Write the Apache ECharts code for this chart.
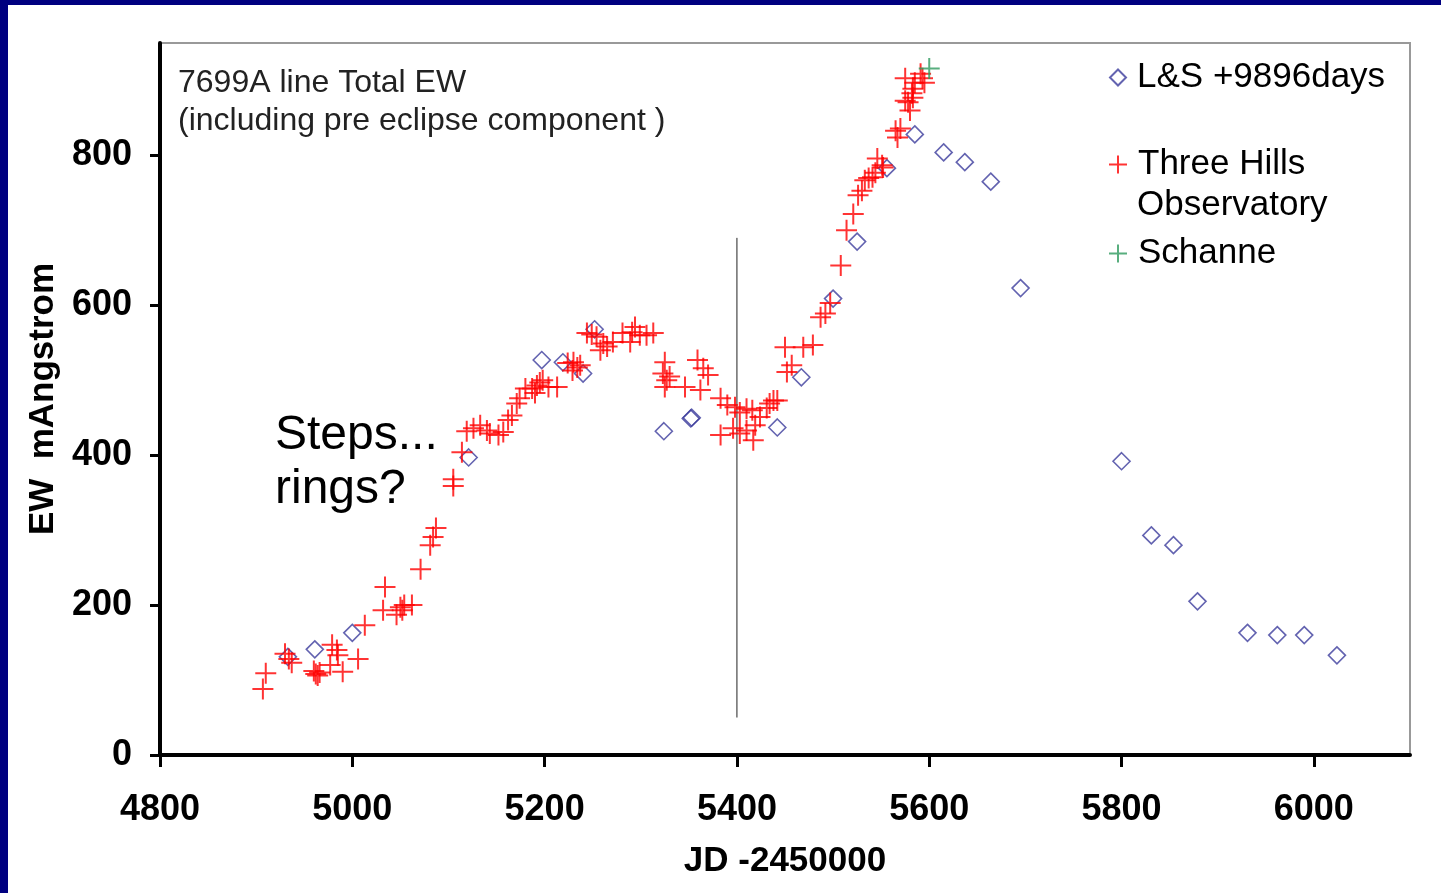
<!DOCTYPE html>
<html>
<head>
<meta charset="utf-8">
<script src="https://cdn.jsdelivr.net/npm/echarts@6/dist/echarts.min.js"></script>
<style>
html, body { margin: 0; padding: 0; background: #fff; }
#main { width: 1441px; height: 893px; }
</style>
</head>
<body>
<div id="main"></div>
<script>
// tick values
var xTicks = [4800, 5000, 5200, 5400, 5600, 5800, 6000];
var yTicks = [0, 200, 400, 600, 800];

// L&S +9896days  [JD-2450000, EW]
var lsData = [
	[4933, 131], [4961, 141], [5000, 163], [5121, 397], [5197, 527], [5219, 524],
	[5240, 509], [5252, 568], [5324, 432], [5352, 449], [5353, 450], [5442, 437],
	[5467, 504], [5500, 609], [5525, 685], [5556, 783], [5585, 828], [5615, 804],
	[5637, 791], [5664, 765], [5695, 623], [5800, 392], [5831, 293], [5854, 280],
	[5879, 205], [5931, 163], [5962, 160], [5990, 160], [6024, 133]
];

// Three Hills Observatory
var thoData = [
	[4907, 88], [4910, 109], [4930, 135], [4934, 128], [4937, 123], [4960, 112],
	[4962, 108], [4964, 106], [4966, 110], [4977, 120], [4979, 147], [4984, 140],
	[4985, 133], [4990, 111], [5006, 128], [5013, 173], [5032, 193], [5034, 224],
	[5046, 187], [5050, 197], [5052, 193], [5054, 200], [5062, 200], [5071, 248],
	[5081, 280], [5084, 291], [5087, 303], [5105, 368], [5105, 359], [5114, 404],
	[5119, 432], [5126, 436], [5133, 440], [5140, 433], [5143, 429], [5152, 427],
	[5157, 431], [5162, 447], [5166, 453], [5171, 469], [5174, 476], [5180, 489],
	[5187, 489], [5190, 483], [5192, 493], [5195, 497], [5198, 500], [5204, 491],
	[5213, 491], [5224, 523], [5230, 524], [5229, 513], [5234, 517], [5237, 520],
	[5244, 563], [5249, 561], [5254, 558], [5258, 540], [5261, 549], [5265, 545],
	[5271, 551], [5281, 563], [5289, 551], [5291, 564], [5294, 571], [5299, 560],
	[5306, 560], [5313, 563], [5325, 524], [5323, 509], [5327, 500], [5325, 491],
	[5330, 505], [5346, 491], [5359, 527], [5365, 516], [5370, 507], [5362, 487],
	[5383, 476], [5390, 467], [5398, 464], [5383, 427], [5396, 436], [5403, 457],
	[5410, 462], [5416, 460], [5403, 429], [5410, 433], [5417, 420], [5419, 440],
	[5424, 451], [5431, 463], [5434, 469], [5438, 473], [5442, 473], [5452, 511],
	[5457, 520], [5450, 544], [5469, 544], [5479, 547], [5487, 584], [5492, 589],
	[5497, 603], [5508, 653], [5514, 700], [5521, 722], [5526, 747], [5530, 753],
	[5533, 767], [5537, 770], [5541, 771], [5544, 777], [5546, 796], [5551, 787],
	[5552, 784], [5565, 833], [5570, 836], [5567, 824], [5580, 860], [5578, 871],
	[5575, 873], [5582, 883], [5583, 889], [5575, 903], [5585, 897], [5593, 903],
	[5591, 909], [5595, 897], [5583, 877]
];

// Schanne
var schanneData = [[5600, 916]];

// vertical marker line at JD 5400
var markerLine = [[5400, 50], [5400, 690]];

var plus = 'path://M0,10L20,10M10,0L10,20';
var font = 'Liberation Sans, Arial, sans-serif';

var myChart = echarts.init(document.getElementById('main'));

var legendText = { fontFamily: font, fontSize: 35, color: '#000', padding: [0, 0, 0, 6] };

var option = {
	backgroundColor: '#fff',
	animation: false,
	grid: {
		left: 160,
		top: 43,
		right: 31,
		bottom: 138,
		show: true,
		borderColor: '#999',
		borderWidth: 2,
		backgroundColor: 'transparent'
	},
	legend: [{
		orient: 'vertical',
		left: 1109,
		top: 60,
		padding: 0,
		itemWidth: 16,
		itemHeight: 16,
		textStyle: legendText,
		data: ['L&S +9896days']
	}, {
		orient: 'vertical',
		left: 1108,
		top: 147,
		padding: 0,
		itemWidth: 18,
		itemHeight: 18,
		formatter: function () { return 'Three Hills'; },
		textStyle: legendText,
		data: ['Three Hills Observatory']
	}, {
		orient: 'vertical',
		left: 1108,
		top: 236,
		padding: 0,
		itemWidth: 18,
		itemHeight: 18,
		textStyle: legendText,
		data: ['Schanne']
	}],
	xAxis: {
		type: 'value',
		min: 4800,
		max: 6100,
		interval: 200,
		name: 'JD -2450000',
		nameLocation: 'middle',
		nameGap: 89,
		nameTextStyle: { fontFamily: font, fontSize: 35, fontWeight: 'bold', color: '#000' },
		axisLine: { onZero: false, lineStyle: { color: '#000', width: 4 } },
		axisTick: { show: true, length: 12, lineStyle: { color: '#000', width: 3 }, customValues: xTicks },
		axisLabel: {
			fontFamily: font, fontSize: 36, fontWeight: 'bold', color: '#000', margin: 37,
			customValues: xTicks,
			formatter: function (v) { return String(v); }
		},
		splitLine: { show: false }
	},
	yAxis: {
		type: 'value',
		min: 0,
		max: 950,
		interval: 200,
		name: 'EW  mAngstrom',
		nameLocation: 'middle',
		nameRotate: 90,
		nameGap: 96,
		nameTextStyle: { fontFamily: font, fontSize: 35, fontWeight: 'bold', color: '#000' },
		axisLine: { show: true, lineStyle: { color: '#000', width: 4 } },
		axisTick: { show: true, length: 10, lineStyle: { color: '#000', width: 3 }, customValues: yTicks },
		axisLabel: { fontFamily: font, fontSize: 36, fontWeight: 'bold', color: '#000', margin: 28, customValues: yTicks },
		splitLine: { show: false }
	},
	graphic: [
		{ type: 'rect', left: 0, top: 0, shape: { width: 8, height: 893 }, style: { fill: '#000080' } },
		{ type: 'rect', left: 0, top: 0, shape: { width: 1441, height: 5 }, style: { fill: '#000080' } },
		{ type: 'text', left: 178, top: 67, style: { text: '7699A line Total EW', font: '32px Liberation Sans, Arial, sans-serif', fill: '#222' } },
		{ type: 'text', left: 178, top: 105, style: { text: '(including pre eclipse component )', font: '32px Liberation Sans, Arial, sans-serif', fill: '#222' } },
		{ type: 'text', left: 1137, top: 188, style: { text: 'Observatory', font: '35px Liberation Sans, Arial, sans-serif', fill: '#000' } },
		{ type: 'text', left: 275, top: 412, style: { text: 'Steps...', font: '48px Liberation Sans, Arial, sans-serif', fill: '#000' } },
		{ type: 'text', left: 275, top: 466, style: { text: 'rings?', font: '48px Liberation Sans, Arial, sans-serif', fill: '#000' } }
	],
	series: [{
		type: 'line',
		name: 'marker',
		data: markerLine,
		symbol: 'none',
		silent: true,
		lineStyle: { color: '#222', width: 1 },
		z: 1
	}, {
		type: 'scatter',
		name: 'L&S +9896days',
		data: lsData,
		symbol: 'diamond',
		symbolSize: 17,
		itemStyle: { color: 'rgba(255,255,255,0)', borderColor: '#3c3c9c', borderWidth: 1.6 },
		z: 2
	}, {
		type: 'scatter',
		name: 'Three Hills Observatory',
		data: thoData,
		symbol: plus,
		symbolSize: 21,
		itemStyle: { color: '#ff0000', borderColor: '#ff0000', borderWidth: 2 },
		z: 3
	}, {
		type: 'scatter',
		name: 'Schanne',
		data: schanneData,
		symbol: plus,
		symbolSize: 21,
		itemStyle: { color: '#2e9a5e', borderColor: '#2e9a5e', borderWidth: 2 },
		z: 4
	}]
};

myChart.setOption(option);
</script>
</body>
</html>
